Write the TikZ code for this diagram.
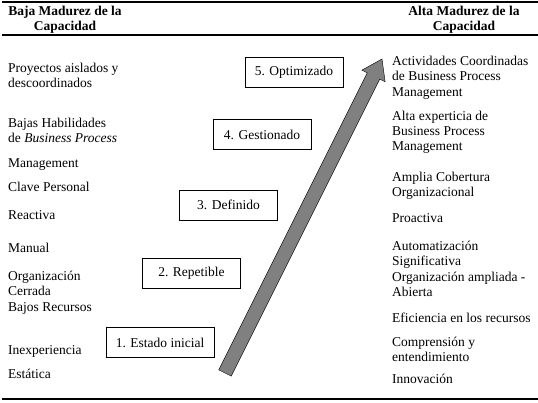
\documentclass[tikz,border=0pt]{standalone}
\usepackage{fontspec}
\setmainfont{Liberation Serif}
\usetikzlibrary{calc}
\definecolor{arrgray}{RGB}{128,128,128}

\begin{document}
\begin{tikzpicture}[
  x=1pt,y=-1pt,
  txt/.style={anchor=north west,inner sep=0pt,align=left,
              font=\fontsize{13.5}{15.3}\selectfont,
              execute at begin node=\strut},
  head/.style={anchor=north,inner sep=0pt,align=center,
               font=\fontsize{13.5}{15}\selectfont\bfseries,
               execute at begin node=\strut},
  stage/.style={draw,thin,fill=white,inner sep=0pt,
                minimum width=98pt,minimum height=30pt,
                font=\fontsize{13.5}{15}\selectfont},
  rule/.style={line width=1.1pt}
]
\useasboundingbox (0,0) rectangle (538,403);

% rules
\coordinate (tl) at (2,2);    \coordinate (tr) at (538,2);
\coordinate (ml) at (2,35);   \coordinate (mr) at (538,35);
\coordinate (bl) at (2,399);  \coordinate (br) at (538,399);
\draw[rule] (tl) -- (tr);
\draw[rule] (ml) -- (mr);
\draw[rule] (bl) -- (br);

% headers
\node[head] (hlow)  at (65,6)  {Baja Madurez de la\\Capacidad};
\node[head] (hhigh) at (464,6) {Alta Madurez de la\\Capacidad};

% low maturity
\node[txt] (l1) at (8,62.5)  {Proyectos aislados y\\descoordinados};
\node[txt] (l2) at (8,117.5) {Bajas Habilidades\\de \textit{Business Process}};
\node[txt] (l3) at (8,157)   {Management};
\node[txt] (l4) at (8,180.5) {Clave Personal};
\node[txt] (l5) at (8,209)   {Reactiva};
\node[txt] (l6) at (8,242)   {Manual};
\node[txt] (l7) at (8,271)   {Organizaci\'on\\Cerrada\\Bajos Recursos};
\node[txt] (l8) at (8,343.5) {Inexperiencia};
\node[txt] (l9) at (8,368)   {Est\'atica};

% high maturity
\node[txt] (r1) at (392,56)    {Actividades Coordinadas\\de Business Process\\Management};
\node[txt] (r2) at (392,110.5) {Alta experticia de\\Business Process\\Management};
\node[txt] (r3) at (392,172)   {Amplia Cobertura\\Organizacional};
\node[txt] (r4) at (392,212)   {Proactiva};
\node[txt] (r5) at (392,241)   {Automatizaci\'on\\Significativa\\Organizaci\'on ampliada -\\Abierta};
\node[txt] (r6) at (392,311.5) {Eficiencia en los recursos};
\node[txt] (r7) at (392,337)   {Comprensi\'on y\\entendimiento};
\node[txt] (r8) at (392,372.5) {Innovaci\'on};

% arrow
\coordinate (lo) at (225,373);
\coordinate (hi) at (382,59);
\coordinate (neck) at ($(hi)!19pt!(lo)$);
\draw[fill=arrgray,line join=miter]
  ($(lo)!7pt!90:(hi)$) -- ($(neck)!7pt!-90:(lo)$) -- ($(neck)!13pt!-90:(lo)$)
  -- (hi) -- ($(neck)!13pt!90:(lo)$) -- ($(neck)!7pt!90:(lo)$)
  -- ($(lo)!7pt!-90:(hi)$) -- cycle;

% stages
\node[stage] (s5) at (294,72)    {5. Optimizado};
\node[stage] (s4) at (262,134.5) {4. Gestionado};
\node[stage] (s3) at (228.5,205) {3. Definido};
\node[stage] (s2) at (191.5,273.5) {2. Repetible};
\node[stage,minimum width=108pt] (s1) at (160,342.5) {1. Estado inicial};
\end{tikzpicture}
\end{document}
